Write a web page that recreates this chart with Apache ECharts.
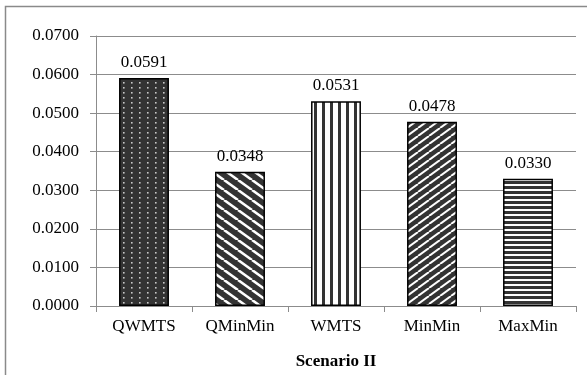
<!DOCTYPE html>
<html>
<head>
<meta charset="utf-8">
<script src="https://cdn.jsdelivr.net/npm/echarts@6/dist/echarts.min.js"></script>
<style>
html,body{margin:0;padding:0;background:#fff;}
#chart{width:587px;height:375px;}
</style>
</head>
<body>
<div id="chart"></div>
<script>
const categories = ['QWMTS', 'QMinMin', 'WMTS', 'MinMin', 'MaxMin'];
const values = [0.0591, 0.0348, 0.0531, 0.0478, 0.0330];
const axisTitle = 'Scenario II';
const yMin = 0, yMax = 0.07, yStep = 0.01;

const DARK = '#333333';
function makeTile(w, h, draw) {
  const c = document.createElement('canvas');
  c.width = w; c.height = h;
  const g = c.getContext('2d');
  draw(g, w, h);
  return c;
}
const patterns = [
  // dots on dark
  makeTile(8, 5, (g, w, h) => {
    g.fillStyle = DARK; g.fillRect(0, 0, w, h);
    g.fillStyle = '#c8c8c8'; g.fillRect(3, 2, 1.6, 1.6);
  }),
  // "\" diagonal wide stripes
  makeTile(14, 10, (g, w, h) => {
    g.fillStyle = DARK; g.fillRect(0, 0, w, h);
    g.strokeStyle = '#ffffff'; g.lineWidth = 2.6;
    for (let k = -1; k <= 1; k++) {
      g.beginPath(); g.moveTo(k * w, 0); g.lineTo(k * w + w, h); g.stroke();
    }
  }),
  // vertical stripes
  makeTile(8, 4, (g, w, h) => {
    g.fillStyle = '#ffffff'; g.fillRect(0, 0, w, h);
    g.fillStyle = DARK; g.fillRect(2, 0, 3, h);
  }),
  // "/" diagonal stripes
  makeTile(11, 8, (g, w, h) => {
    g.fillStyle = DARK; g.fillRect(0, 0, w, h);
    g.strokeStyle = '#ffffff'; g.lineWidth = 2;
    for (let k = -1; k <= 1; k++) {
      g.beginPath(); g.moveTo(k * w, h); g.lineTo(k * w + w, 0); g.stroke();
    }
  }),
  // horizontal stripes
  makeTile(4, 5, (g, w, h) => {
    g.fillStyle = '#ffffff'; g.fillRect(0, 0, w, h);
    g.fillStyle = DARK; g.fillRect(0, 1, w, 3);
  })
];

const FONT = '"Liberation Serif", "Times New Roman", serif';
const chart = echarts.init(document.getElementById('chart'), null, { renderer: 'canvas' });
chart.setOption({
  animation: false,
  backgroundColor: '#ffffff',
  graphic: [{
    type: 'rect',
    shape: { x: 5.5, y: 6.5, width: 640, height: 420 },
    style: { fill: 'none', stroke: '#8a8a8a', lineWidth: 1.5 },
    silent: true
  }],
  grid: { left: 96, right: 11, top: 36, bottom: 69, containLabel: false },
  xAxis: {
    type: 'category',
    data: categories,
    name: axisTitle,
    nameLocation: 'middle',
    nameGap: 47,
    nameTextStyle: { fontFamily: FONT, fontSize: 17, fontWeight: 'bold', color: '#000' },
    axisLine: { lineStyle: { color: '#8c8c8c', width: 1 } },
    axisTick: { show: true, length: 6, lineStyle: { color: '#8c8c8c' } },
    axisLabel: { fontFamily: FONT, fontSize: 17, color: '#000', margin: 12 },
    splitLine: { show: false }
  },
  yAxis: {
    type: 'value',
    min: yMin, max: yMax, interval: yStep,
    axisLine: { show: true, lineStyle: { color: '#8c8c8c', width: 1 } },
    axisTick: { show: true, length: 6, lineStyle: { color: '#8c8c8c' } },
    axisLabel: { fontFamily: FONT, fontSize: 17, color: '#000', margin: 17, formatter: v => v.toFixed(4) },
    splitLine: { show: true, lineStyle: { color: '#8c8c8c', width: 1 } }
  },
  series: [{
    type: 'bar',
    barWidth: '52%',
    data: values.map((v, i) => ({
      value: v,
      itemStyle: {
        color: { image: patterns[i], repeat: 'repeat' },
        borderColor: '#000', borderWidth: 1.5
      }
    })),
    label: {
      show: true, position: 'top', distance: 7,
      fontFamily: FONT, fontSize: 17, color: '#000',
      formatter: p => p.value.toFixed(4)
    }
  }]
});
</script>
</body>
</html>
